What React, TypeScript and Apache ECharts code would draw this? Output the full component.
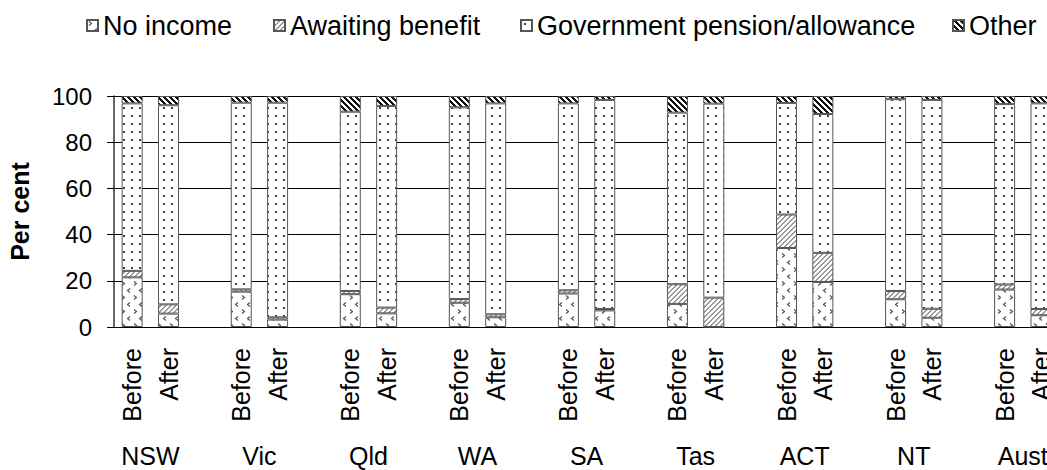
import React, { useEffect, useRef } from "react";
import * as echarts from "echarts";

const states = ["NSW", "Vic", "Qld", "WA", "SA", "Tas", "ACT", "NT", "Aust"];
const periods = ["Before", "After"];
const seriesNames = ["No income", "Awaiting benefit", "Government pension/allowance", "Other"];
// values per state, Before then After
const noIncome = [21.5, 5.8, 15.3, 3.2, 14.2, 5.9, 10.5, 4.2, 14.5, 7.2, 10.0, 0, 34.2, 19.5, 12.0, 4.0, 16.2, 5.1];
const awaiting = [2.8, 4.0, 1.0, 1.0, 1.4, 2.5, 1.6, 1.3, 1.4, 0.6, 8.5, 12.7, 14.5, 12.6, 3.6, 3.9, 2.2, 2.7];
const govt = [72.5, 86.2, 80.8, 92.9, 77.6, 87.3, 83.0, 91.3, 80.9, 90.5, 74.3, 84.0, 48.3, 60.1, 83.0, 90.4, 78.1, 89.0];
const other = [3.2, 4.0, 2.9, 2.9, 6.8, 4.3, 4.9, 3.2, 3.2, 1.7, 7.2, 3.3, 3.0, 7.8, 1.4, 1.7, 3.5, 3.2];
const yTicks = [0, 20, 40, 60, 80, 100];

const FONT = "Arial, 'Liberation Sans', sans-serif";

function makeTile(w: number, h: number, draw: (ctx: CanvasRenderingContext2D) => void) {
  const c = document.createElement("canvas");
  c.width = w;
  c.height = h;
  const ctx = c.getContext("2d") as CanvasRenderingContext2D;
  ctx.fillStyle = "#fff";
  ctx.fillRect(0, 0, w, h);
  draw(ctx);
  return c;
}

function pixelTile(w: number, h: number, test: (x: number, y: number) => boolean, color: string) {
  return makeTile(w, h, (ctx) => {
    ctx.fillStyle = color;
    for (let x = 0; x < w; x++) for (let y = 0; y < h; y++) if (test(x, y)) ctx.fillRect(x, y, 1, 1);
  });
}

export default function App() {
  const ref = useRef<HTMLDivElement>(null);
  useEffect(() => {
    if (!ref.current) return;
    const chart = echarts.init(ref.current, null, { renderer: "svg" });

    const chevron = makeTile(12, 14, (ctx) => {
      ctx.strokeStyle = "#555";
      ctx.lineWidth = 1.2;
      ctx.beginPath();
      ctx.moveTo(2, 1.5);
      ctx.lineTo(4.5, 3.5);
      ctx.lineTo(2, 5.5);
      ctx.moveTo(10, 8.5);
      ctx.lineTo(7.5, 10.5);
      ctx.lineTo(10, 12.5);
      ctx.stroke();
    });
    const hatch = pixelTile(5, 5, (x, y) => (x + y) % 5 < 2, "#999");
    const dots = makeTile(8, 8, (ctx) => {
      ctx.fillStyle = "#444";
      ctx.fillRect(3, 3, 2, 2);
    });
    const dark = pixelTile(6, 6, (x, y) => ((x - y) % 6 + 6) % 6 < 3, "#111");
    const patterns = [chevron, hatch, dots, dark].map((image) => ({ image, repeat: "repeat" }));

    const categories: string[] = [];
    const groupLabels: string[] = [];
    states.forEach(() => {
      periods.forEach((p) => categories.push(p));
      categories.push("");
    });
    for (let i = 0; i < categories.length * 2 + 1; i++) groupLabels.push("");
    states.forEach((s, k) => (groupLabels[2 + 6 * k] = s));

    const expand = (arr: number[]) => {
      const out: (number | null)[] = [];
      states.forEach((_, k) => {
        out.push(arr[2 * k], arr[2 * k + 1], null);
      });
      return out;
    };
    const datasets = [noIncome, awaiting, govt, other];

    const legendLefts = [86, 273, 520, 952];

    chart.setOption({
      animation: false,
      textStyle: { fontFamily: FONT, color: "#000" },
      legend: seriesNames.map((name, i) => ({
        data: [name],
        left: legendLefts[i],
        top: 12,
        padding: 0,
        itemWidth: 11,
        itemHeight: 11,
        itemGap: 0,
        icon: "rect",
        textStyle: { fontSize: 27, color: "#000", fontFamily: FONT },
        selectedMode: false,
      })),
      grid: {
        left: 114,
        top: 96,
        height: 231,
        width: 981.5,
        containLabel: false,
        outerBoundsMode: "none",
      },
      xAxis: [
        {
          type: "category",
          data: categories,
          position: "bottom",
          axisLine: { show: true, lineStyle: { color: "#000", width: 1 } },
          axisTick: { show: false },
          axisLabel: {
            interval: 0,
            rotate: 90,
            fontSize: 25,
            color: "#000",
            margin: 21,
            fontFamily: FONT,
            hideOverlap: false,
          },
        },
        {
          type: "category",
          data: groupLabels,
          position: "bottom",
          offset: 0,
          boundaryGap: false,
          axisLine: { show: false },
          axisTick: { show: false },
          splitLine: { show: false },
          axisLabel: {
            interval: 0,
            fontSize: 25,
            lineHeight: 25,
            color: "#000",
            margin: 116,
            fontFamily: FONT,
            hideOverlap: false,
          },
        },
      ],
      yAxis: {
        type: "value",
        min: yTicks[0],
        max: yTicks[yTicks.length - 1],
        interval: 20,
        name: "Per cent",
        nameLocation: "middle",
        nameRotate: 90,
        nameGap: 82,
        nameTextStyle: { fontSize: 25, fontWeight: "bold", color: "#000", fontFamily: FONT },
        axisLine: { show: true, lineStyle: { color: "#333", width: 1.5 } },
        axisTick: { show: true, length: 7, lineStyle: { color: "#000" } },
        splitLine: { show: true, lineStyle: { color: "#000", width: 1 } },
        axisLabel: { fontSize: 24, color: "#000", margin: 22, fontFamily: FONT },
      },
      series: seriesNames.map((name, i) => ({
        name,
        type: "bar",
        stack: "total",
        xAxisIndex: 0,
        barWidth: 21,
        data: expand(datasets[i]),
        itemStyle: { color: patterns[i], borderColor: "#555", borderWidth: 1 },
        emphasis: { disabled: true },
      })),
    });
    return () => chart.dispose();
  }, []);
  return (
    <div
      ref={ref}
      style={{ position: "absolute", left: 0, top: 0, width: 1047, height: 470, overflow: "hidden", background: "#fff" }}
    />
  );
}
